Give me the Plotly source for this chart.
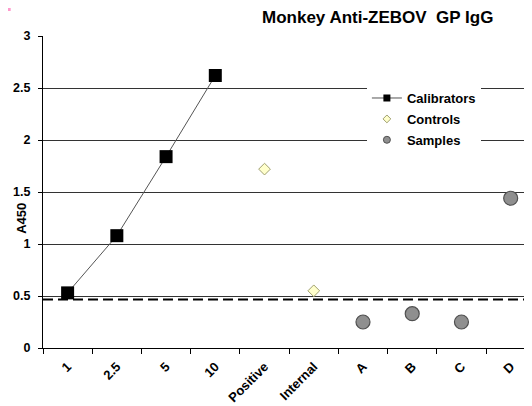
import plotly.graph_objects as go

# ---- data ----
categories = ["1", "2.5", "5", "10", "Positive", "Internal", "A", "B", "C", "D"]
calibrator_labels = ["1", "2.5", "5", "10"]
calibrator_values = [0.53, 1.08, 1.84, 2.62]
control_labels = ["Positive", "Internal"]
control_values = [1.72, 0.55]
sample_labels = ["A", "B", "C", "D"]
sample_values = [0.25, 0.33, 0.25, 1.44]
cutoff_value = 0.466
y_ticks = [0, 0.5, 1, 1.5, 2, 2.5, 3]

FONT = "Liberation Sans, Arial, sans-serif"

# the page body has an 8px margin, so the figure is placed at (8, 8)
OFF = 8
WIN_W, WIN_H = 532, 406
W, H = WIN_W - OFF, WIN_H - OFF
# target plot area in window pixels: x 43.3..532, y 36..347.7
PLOT_L, PLOT_R, PLOT_T, PLOT_B = 43.3, 532, 36, 347.7
ML = PLOT_L - OFF
MR = 0
MT = PLOT_T - OFF
MB = H - (PLOT_B - OFF)
PW = W - ML - MR
PH = H - MT - MB


def px_x(px):  # window pixel -> paper x
    return (px - PLOT_L) / PW


def px_y(py):  # window pixel -> paper y
    return (PLOT_B - py) / PH


fig = go.Figure()

# real data traces
fig.add_trace(go.Scatter(
    x=calibrator_labels, y=calibrator_values, mode="lines+markers",
    line=dict(color="#555555", width=1),
    marker=dict(symbol="square", size=13, color="black"),
    showlegend=False, cliponaxis=False))
fig.add_trace(go.Scatter(
    x=control_labels, y=control_values, mode="markers",
    marker=dict(symbol="diamond", size=9, color="#FFFFCC",
                line=dict(color="#A0A070", width=1)),
    showlegend=False, cliponaxis=False))
fig.add_trace(go.Scatter(
    x=sample_labels, y=sample_values, mode="markers",
    marker=dict(symbol="circle", size=14, color="#8F8F8F",
                line=dict(color="#505050", width=1.2)),
    showlegend=False, cliponaxis=False))

# legend proxies (small symbols as in the reference legend)
fig.add_trace(go.Scatter(
    x=[None], y=[None], mode="lines+markers", name="Calibrators",
    legendgroup="a",
    line=dict(color="#555555", width=1),
    marker=dict(symbol="square", size=7, color="black")))
fig.add_trace(go.Scatter(
    x=[None], y=[None], mode="markers", name="Controls",
    legendgroup="b",
    marker=dict(symbol="diamond", size=6, color="#FFFFCC",
                line=dict(color="#A0A070", width=1))))
fig.add_trace(go.Scatter(
    x=[None], y=[None], mode="markers", name="Samples",
    legendgroup="c",
    marker=dict(symbol="circle", size=7, color="#8F8F8F",
                line=dict(color="#505050", width=1))))

# cutoff dashed line
fig.add_shape(type="line", xref="paper", yref="y", x0=0, x1=1,
              y0=cutoff_value, y1=cutoff_value,
              line=dict(color="black", width=2, dash="10px,5px"))

# small pink artifact at the top-left corner
fig.add_shape(type="rect", xref="paper", yref="paper",
              x0=px_x(OFF), x1=px_x(OFF + 3), y0=px_y(OFF + 3), y1=px_y(OFF),
              line=dict(width=0), fillcolor="#FF99CC")

fig.add_annotation(text="Monkey Anti-ZEBOV  GP IgG", xref="paper", yref="paper",
                   x=px_x(378), y=px_y(18), xanchor="center", yanchor="middle",
                   showarrow=False,
                   font=dict(family=FONT, size=17, color="black", weight="bold"))
fig.add_annotation(text="A450", xref="paper", yref="paper",
                   x=px_x(21), y=px_y(218), xanchor="center", yanchor="middle",
                   textangle=-90, showarrow=False,
                   font=dict(family=FONT, size=13, color="black", weight="bold"))

fig.update_layout(
    width=W, height=H,
    margin=dict(l=ML, r=MR, t=MT, b=MB, pad=0, autoexpand=False),
    paper_bgcolor="white", plot_bgcolor="white",
    font=dict(family=FONT, size=12, color="black"),
    legend=dict(x=px_x(367), y=px_y(83), xanchor="left", yanchor="top",
                bgcolor="white", borderwidth=0,
                font=dict(family=FONT, size=13, color="black", weight="bold"),
                tracegroupgap=1),
    xaxis=dict(type="category", categoryorder="array", categoryarray=categories,
               range=[-0.5, 9.433], tickson="boundaries", ticks="outside",
               ticklen=5, tickcolor="black", showline=True, linecolor="black",
               linewidth=1, showgrid=False, tickangle=-45,
               ticklabelstandoff=5,
               tickfont=dict(family=FONT, size=13, color="black", weight="bold")),
    yaxis=dict(range=[0, 3], tickvals=y_ticks,
               ticktext=[("%g" % v) for v in y_ticks],
               ticks="outside", ticklen=4, tickcolor="black",
               ticklabelstandoff=5,
               showline=True, linecolor="black", linewidth=1,
               showgrid=True, gridcolor="#333333", gridwidth=1,
               zeroline=False,
               tickfont=dict(family=FONT, size=12.5, color="black", weight="bold")),
)

fig.write_html("out.html")
